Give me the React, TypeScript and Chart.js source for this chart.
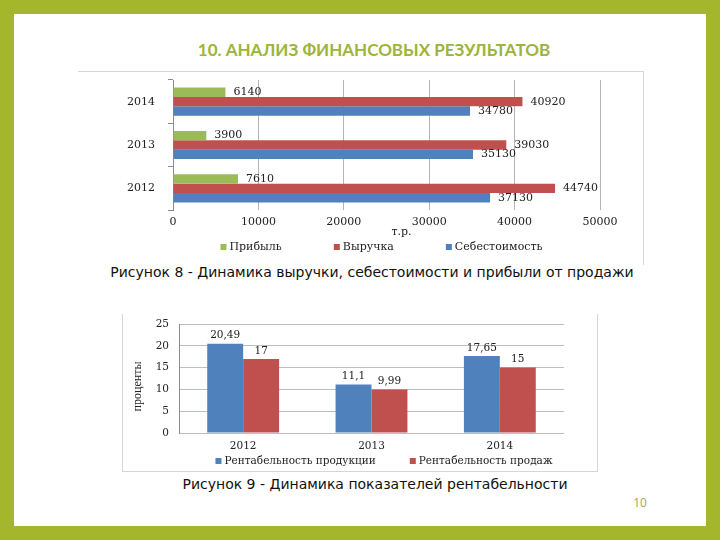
import React, { useEffect, useRef } from "react";
import { Chart, registerables } from "chart.js";

Chart.register(...registerables);

// ---------- data: figure 8 ----------
const years1 = ["2014", "2013", "2012"];
const profit = [6140, 3900, 7610];
const revenue = [40920, 39030, 44740];
const cost = [34780, 35130, 37130];
const seriesNames1 = ["Прибыль", "Выручка", "Себестоимость"];
const xMax1 = 50000;
const xStep1 = 10000;
const xTitle1 = "т.р.";

// ---------- data: figure 9 ----------
const years2 = ["2012", "2013", "2014"];
const prodProfitability = [20.49, 11.1, 17.65];
const salesProfitability = [17, 9.99, 15];
const seriesNames2 = ["Рентабельность продукции", "Рентабельность продаж"];
const yMax2 = 25;
const yStep2 = 5;
const yTitle2 = "проценты";

const slideTitle = "10. АНАЛИЗ ФИНАНСОВЫХ РЕЗУЛЬТАТОВ";
const caption1 = "Рисунок 8 - Динамика выручки, себестоимости и прибыли от продажи";
const caption2 = "Рисунок 9 - Динамика показателей рентабельности";
const pageNo = "10";

const BLUE = "#4f81bd";
const RED = "#c0504d";
const GREEN = "#9bbb59";
const SERIF = "'DejaVu Serif', 'Liberation Serif', serif";
const TEXT = "#222222";

function valueLabelsPlugin(cfg: {
  horizontal: boolean;
  offset: number;
  font: string;
  fmt: (v: number) => string;
}) {
  return {
    id: "valueLabels",
    afterDatasetsDraw(chart: any) {
      const ctx = chart.ctx;
      ctx.save();
      ctx.font = cfg.font;
      ctx.fillStyle = TEXT;
      chart.data.datasets.forEach((ds: any, i: number) => {
        const meta = chart.getDatasetMeta(i);
        meta.data.forEach((el: any, j: number) => {
          const txt = cfg.fmt(ds.data[j]);
          if (cfg.horizontal) {
            ctx.textAlign = "left";
            ctx.textBaseline = "middle";
            ctx.fillText(txt, el.x + cfg.offset, el.y);
          } else {
            ctx.textAlign = "center";
            ctx.textBaseline = "middle";
            ctx.fillText(txt, el.x, el.y - cfg.offset);
          }
        });
      });
      ctx.restore();
    },
  };
}

function legendPlugin(cfg: {
  font: string;
  box: number;
  boxGap: number;
  gap: number;
  dx: number;
  dy: number;
}) {
  return {
    id: "customLegend",
    afterDraw(chart: any) {
      const { ctx, chartArea } = chart;
      ctx.save();
      ctx.font = cfg.font;
      const items = chart.data.datasets.map((ds: any) => ({
        label: ds.label as string,
        color: ds.backgroundColor as string,
      }));
      const widths = items.map(
        (it: any) => cfg.box + cfg.boxGap + ctx.measureText(it.label).width
      );
      const total =
        widths.reduce((a: number, b: number) => a + b, 0) +
        cfg.gap * (items.length - 1);
      let x = (chartArea.left + chartArea.right) / 2 + cfg.dx - total / 2;
      const y = chartArea.bottom + cfg.dy;
      items.forEach((it: any, k: number) => {
        ctx.fillStyle = it.color;
        ctx.fillRect(x, y - cfg.box / 2, cfg.box, cfg.box);
        ctx.fillStyle = TEXT;
        ctx.textAlign = "left";
        ctx.textBaseline = "middle";
        ctx.fillText(it.label, x + cfg.box + cfg.boxGap, y);
        x += widths[k] + cfg.gap;
      });
      ctx.restore();
    },
  };
}

function axisTitlePlugin(cfg: {
  text: string;
  font: string;
  vertical: boolean;
  dx: number;
  dy: number;
}) {
  return {
    id: "axisTitle",
    afterDraw(chart: any) {
      const { ctx, chartArea } = chart;
      ctx.save();
      ctx.font = cfg.font;
      ctx.fillStyle = TEXT;
      ctx.textAlign = "center";
      ctx.textBaseline = "middle";
      if (cfg.vertical) {
        const x = chartArea.left + cfg.dx;
        const y = (chartArea.top + chartArea.bottom) / 2 + cfg.dy;
        ctx.translate(x, y);
        ctx.rotate(-Math.PI / 2);
        ctx.fillText(cfg.text, 0, 0);
      } else {
        const x = (chartArea.left + chartArea.right) / 2 + cfg.dx;
        const y = chartArea.bottom + cfg.dy;
        ctx.fillText(cfg.text, x, y);
      }
      ctx.restore();
    },
  };
}

const fixVertical = (w: number) => (s: any) => {
  s.width = w;
  s.paddingTop = 0;
  s.paddingBottom = 0;
};
const fixHorizontal = (h: number) => (s: any) => {
  s.height = h;
  s.paddingLeft = 0;
  s.paddingRight = 0;
};

function RevenueChart() {
  const ref = useRef<HTMLCanvasElement>(null);
  useEffect(() => {
    const colors = [GREEN, RED, BLUE];
    const values = [profit, revenue, cost];
    const chart = new Chart(ref.current!, {
      type: "bar",
      data: {
        labels: years1,
        datasets: seriesNames1.map((name, i) => ({
          label: name,
          data: values[i],
          backgroundColor: colors[i],
          categoryPercentage: 0.65,
          barPercentage: 1,
        })),
      },
      options: {
        indexAxis: "y",
        animation: false,
        responsive: false,
        layout: { padding: { top: 9, right: 43, left: 0, bottom: 0 } },
        plugins: { legend: { display: false }, tooltip: { enabled: false } },
        scales: {
          x: {
            min: 0,
            max: xMax1,
            ticks: {
              stepSize: xStep1,
              callback: (v: any) => String(v),
              font: { family: SERIF, size: 11 },
              color: TEXT,
              padding: 6,
            },
            grid: { color: "#b5b5b5", drawTicks: false },
            border: { display: false },
            afterFit: fixHorizontal(51),
          },
          y: {
            ticks: { font: { family: SERIF, size: 11 }, color: TEXT, padding: 13 },
            grid: {
              drawOnChartArea: false,
              tickLength: 5,
              color: "#8c8c8c",
              offset: true,
            },
            border: { color: "#8c8c8c" },
            afterFit: fixVertical(95),
          },
        },
      } as any,
      plugins: [
        valueLabelsPlugin({
          horizontal: true,
          offset: 8,
          font: `11px ${SERIF}`,
          fmt: (v) => String(v),
        }),
        legendPlugin({ font: `11px ${SERIF}`, box: 6, boxGap: 3, gap: 52, dx: -5, dy: 37 }),
        axisTitlePlugin({ text: xTitle1, font: `11px ${SERIF}`, vertical: false, dx: 15, dy: 22 }),
      ],
    });
    return () => chart.destroy();
  }, []);
  return (
    <canvas
      ref={ref}
      width={565}
      height={190}
      style={{ position: "absolute", left: 78, top: 71, width: 565, height: 190 }}
    />
  );
}

function ProfitabilityChart() {
  const ref = useRef<HTMLCanvasElement>(null);
  useEffect(() => {
    const colors = [BLUE, RED];
    const values = [prodProfitability, salesProfitability];
    const chart = new Chart(ref.current!, {
      type: "bar",
      data: {
        labels: years2,
        datasets: seriesNames2.map((name, i) => ({
          label: name,
          data: values[i],
          backgroundColor: colors[i],
          categoryPercentage: 0.56,
          barPercentage: 1,
        })),
      },
      options: {
        animation: false,
        responsive: false,
        layout: { padding: { top: 11, right: 33, left: 0, bottom: 0 } },
        plugins: { legend: { display: false }, tooltip: { enabled: false } },
        scales: {
          x: {
            ticks: { font: { family: SERIF, size: 10.5 }, color: TEXT, padding: 7 },
            grid: { display: false, drawTicks: false },
            border: { display: false },
            afterFit: fixHorizontal(38),
          },
          y: {
            min: 0,
            max: yMax2,
            ticks: {
              stepSize: yStep2,
              font: { family: SERIF, size: 10.5 },
              color: TEXT,
              padding: 10,
            },
            grid: { color: "#bdbdbd", drawTicks: false },
            border: { color: "#8c8c8c" },
            afterFit: fixVertical(57),
          },
        },
      } as any,
      plugins: [
        valueLabelsPlugin({
          horizontal: false,
          offset: 8,
          font: `10.5px ${SERIF}`,
          fmt: (v) => String(v).replace(".", ","),
        }),
        legendPlugin({ font: `10.5px ${SERIF}`, box: 6, boxGap: 3, gap: 34, dx: 12.5, dy: 28 }),
        axisTitlePlugin({
          text: yTitle2,
          font: `12px 'Liberation Serif', serif`,
          vertical: true,
          dx: -41,
          dy: 8,
        }),
      ],
    });
    return () => chart.destroy();
  }, []);
  return (
    <canvas
      ref={ref}
      width={475}
      height={158}
      style={{ position: "absolute", left: 122, top: 313, width: 475, height: 158 }}
    />
  );
}

const line = (left: number, top: number, width: number, height: number) => (
  <div
    style={{ position: "absolute", left, top, width, height, background: "#d6d6d6" }}
  />
);

export default function App() {
  useEffect(() => {
    document.body.style.margin = "0";
  }, []);
  const captionStyle = (cx: number, cy: number): React.CSSProperties => ({
    position: "absolute",
    left: cx - 300,
    width: 600,
    top: cy - 10,
    height: 20,
    lineHeight: "20px",
    textAlign: "center",
    whiteSpace: "nowrap",
    fontFamily: "'DejaVu Sans', sans-serif",
    fontSize: 14,
    color: "#111",
  });
  return (
    <div
      style={{
        position: "fixed",
        left: 0,
        top: 0,
        width: 720,
        height: 540,
        background: "#a3b62c",
        overflow: "hidden",
      }}
    >
      <div
        style={{
          position: "absolute",
          left: 14,
          top: 14,
          width: 692,
          height: 512,
          background: "#ffffff",
        }}
      />
      <div
        style={{
          position: "absolute",
          left: 174,
          width: 400,
          top: 39,
          height: 22,
          lineHeight: "22px",
          textAlign: "center",
          whiteSpace: "nowrap",
          fontFamily: "Lato, 'Open Sans', sans-serif",
          fontWeight: 700,
          fontSize: 17,
          color: "#9db43a",
        }}
      >
        {slideTitle}
      </div>
      {line(78, 71, 565, 1)}
      {line(643, 71, 1, 194)}
      <RevenueChart />
      <div style={captionStyle(372, 272)}>{caption1}</div>
      <ProfitabilityChart />
      {line(122, 314, 1, 157)}
      {line(122, 471, 476, 1)}
      {line(597, 314, 1, 157)}
      <div style={captionStyle(375, 484)}>{caption2}</div>
      <div
        style={{
          position: "absolute",
          left: 620,
          width: 40,
          top: 495,
          height: 16,
          lineHeight: "16px",
          textAlign: "center",
          fontFamily: "'Open Sans', sans-serif",
          fontSize: 12,
          color: "#9aab50",
        }}
      >
        {pageNo}
      </div>
    </div>
  );
}
